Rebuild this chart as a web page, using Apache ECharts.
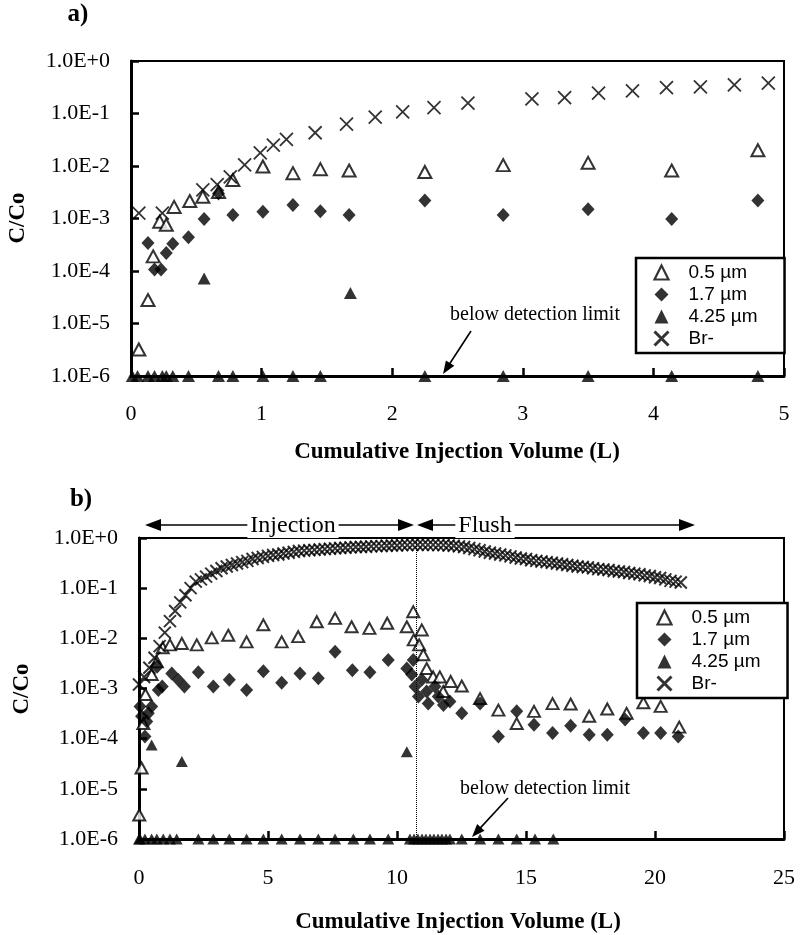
<!DOCTYPE html>
<html><head><meta charset="utf-8">
<script src="https://cdn.jsdelivr.net/npm/echarts@6/dist/echarts.min.js"></script>
<style>html,body{margin:0;padding:0;background:#fff}#c{width:801px;height:935px}</style>
</head><body><div id="c"></div>
<script>
// ---------- names & tick labels ----------
const seriesNames = ['0.5 µm', '1.7 µm', '4.25 µm', 'Br-'];
const yTickLabels = ['1.0E-6','1.0E-5','1.0E-4','1.0E-3','1.0E-2','1.0E-1','1.0E+0'];
const xTickLabelsA = ['0','1','2','3','4','5'];
const xTickLabelsB = ['0','5','10','15','20','25'];
const injectionEnd = 10.74;

// ---------- panel a ----------
const aX05 = [0.06,0.13,0.17,0.22,0.27,0.33,0.45,0.55,0.67,0.78,1.01,1.24,1.45,1.67,2.25,2.85,3.50,4.14,4.80];
const aC05 = [3.2e-6,2.8e-5,1.9e-4,8.7e-4,7.6e-4,1.66e-3,2.15e-3,2.6e-3,3.2e-3,5.4e-3,9.8e-3,7.3e-3,8.7e-3,8.2e-3,7.7e-3,0.0104,0.0115,8.2e-3,0.020];

const aX17 = [0.13,0.18,0.23,0.27,0.32,0.44,0.56,0.67,0.78,1.01,1.24,1.45,1.67,2.25,2.85,3.50,4.14,4.80];
const aC17 = [3.4e-4,1.07e-4,1.07e-4,2.2e-4,3.3e-4,4.4e-4,9.8e-4,3.0e-3,1.17e-3,1.35e-3,1.8e-3,1.38e-3,1.17e-3,2.2e-3,1.17e-3,1.5e-3,9.8e-4,2.2e-3];

const aX425 = [0.01,0.05,0.13,0.18,0.24,0.27,0.32,0.44,0.56,0.67,0.78,1.01,1.24,1.45,1.68,2.25,2.85,3.50,4.14,4.80];
const aC425 = [1e-6,1e-6,1e-6,1e-6,1e-6,1e-6,1e-6,1e-6,7.2e-5,1e-6,1e-6,1e-6,1e-6,1e-6,3.8e-5,1e-6,1e-6,1e-6,1e-6,1e-6];

const aXBr = [0.06,0.24,0.55,0.66,0.76,0.87,0.99,1.09,1.19,1.41,1.65,1.87,2.08,2.32,2.58,3.07,3.32,3.58,3.84,4.10,4.36,4.62,4.88];
const aCBr = [1.26e-3,1.26e-3,3.5e-3,4.4e-3,6.2e-3,0.0105,0.0178,0.025,0.032,0.043,0.063,0.085,0.107,0.13,0.158,0.19,0.20,0.245,0.27,0.31,0.32,0.35,0.38];

// ---------- panel b ----------
const bX05 = [0.01,0.10,0.17,0.25,0.49,0.69,0.92,1.20,1.66,2.24,2.82,3.46,4.17,4.82,5.53,6.17,6.89,7.60,8.24,8.93,9.62,10.38,10.63,10.65,10.86,10.96,11.02,11.15,11.40,11.66,11.79,12.08,12.51,13.22,13.93,14.64,15.31,16.03,16.73,17.45,18.15,18.90,19.55,20.22,20.94];
const bC05 = [3.0e-6,2.6e-5,2.0e-4,7.6e-4,1.9e-3,3.4e-3,6.5e-3,7.4e-3,7.9e-3,7.4e-3,0.0102,0.0115,8.5e-3,0.0186,8.5e-3,0.0108,0.0214,0.025,0.017,0.0158,0.020,0.017,0.034,9.3e-3,7.4e-3,0.0147,4.7e-3,2.5e-3,1.7e-3,1.7e-3,8.7e-4,1.38e-3,1.12e-3,6.3e-4,3.7e-4,2.0e-4,3.5e-4,5.0e-4,4.9e-4,2.8e-4,3.9e-4,3.2e-4,5.2e-4,4.4e-4,1.7e-4];

const bX17 = [0.04,0.10,0.23,0.30,0.36,0.49,0.70,0.75,0.90,1.27,1.52,1.76,2.30,2.88,3.50,4.17,4.82,5.53,6.24,6.95,7.60,8.27,8.95,9.66,10.38,10.57,10.63,10.70,10.83,10.96,11.15,11.21,11.47,11.60,11.80,12.05,12.51,13.22,13.93,14.64,15.31,16.03,16.73,17.45,18.15,18.84,19.55,20.22,20.90];
const bC17 = [4.4e-4,2.8e-4,1.1e-4,2.2e-4,3.2e-4,4.4e-4,2.7e-3,9.3e-4,1.1e-3,2.0e-3,1.5e-3,1.1e-3,2.1e-3,1.1e-3,1.5e-3,9.3e-4,2.2e-3,1.3e-3,2.0e-3,1.6e-3,5.4e-3,2.3e-3,2.1e-3,3.7e-3,2.5e-3,1.9e-3,3.7e-3,1.1e-3,6.9e-4,1.5e-3,8.7e-4,5.0e-4,1.1e-3,6.9e-4,4.7e-4,5.5e-4,3.2e-4,5.0e-4,1.1e-4,3.5e-4,1.9e-4,1.3e-4,1.8e-4,1.2e-4,1.2e-4,2.4e-4,1.3e-4,1.3e-4,1.1e-4];

const bX425 = [0.0,0.04,0.23,0.49,0.49,0.69,0.94,1.20,1.46,1.66,2.30,2.88,3.50,4.17,4.82,5.53,6.24,6.95,7.60,8.31,8.95,9.66,10.38,10.50,10.66,10.81,10.97,11.12,11.28,11.43,11.59,11.74,11.90,12.05,12.51,13.22,13.93,14.64,15.35,16.06];
const bC425 = [1e-6,1e-6,1e-6,1e-6,7.5e-5,1e-6,1e-6,1e-6,1e-6,3.5e-5,1e-6,1e-6,1e-6,1e-6,1e-6,1e-6,1e-6,1e-6,1e-6,1e-6,1e-6,1e-6,5.5e-5,1e-6,1e-6,1e-6,1e-6,1e-6,1e-6,1e-6,1e-6,1e-6,1e-6,1e-6,1e-6,1e-6,1e-6,1e-6,1e-6,1e-6];

const bXBr = [0.0,0.2,0.4,0.6,0.8,1.0,1.2,1.4,1.6,1.8,2.0,2.2,2.4,2.6,2.8,3.0,3.2,3.4,3.6,3.8,4.0,4.2,4.4,4.6,4.8,5.0,5.2,5.4,5.6,5.8,6.0,6.2,6.4,6.6,6.8,7.0,7.2,7.4,7.6,7.8,8.0,8.2,8.4,8.6,8.8,9.0,9.2,9.4,9.6,9.8,10.0,10.2,10.4,10.6,10.8,11.0,11.2,11.4,11.6,11.8,12.0,12.2,12.4,12.6,12.8,13.0,13.2,13.4,13.6,13.8,14.0,14.2,14.4,14.6,14.8,15.0,15.2,15.4,15.6,15.8,16.0,16.2,16.4,16.6,16.8,17.0,17.2,17.4,17.6,17.8,18.0,18.2,18.4,18.6,18.8,19.0,19.2,19.4,19.6,19.8,20.0,20.2,20.4,20.6,20.8,21.0];
const bCBr = [1.2e-3,1.7e-3,2.6e-3,4.1e-3,7.0e-3,0.013,0.022,0.035,0.052,0.072,0.10,0.135,0.15,0.17,0.195,0.22,0.25,0.27,0.29,0.31,0.33,0.35,0.38,0.40,0.42,0.44,0.46,0.47,0.49,0.51,0.53,0.55,0.56,0.57,0.58,0.59,0.60,0.61,0.62,0.63,0.64,0.65,0.66,0.66,0.67,0.68,0.69,0.69,0.70,0.71,0.71,0.72,0.72,0.73,0.73,0.73,0.73,0.73,0.72,0.72,0.71,0.70,0.68,0.66,0.63,0.60,0.57,0.54,0.51,0.49,0.47,0.45,0.43,0.41,0.39,0.38,0.36,0.35,0.34,0.33,0.32,0.31,0.30,0.29,0.28,0.27,0.265,0.26,0.25,0.24,0.235,0.23,0.22,0.215,0.21,0.20,0.195,0.19,0.18,0.175,0.165,0.16,0.15,0.14,0.135,0.13];

// ---------- build ----------
const pairs = (xs, ys) => xs.map((x, i) => [x, ys[i]]);
const SERIF = 'Liberation Serif, Times New Roman, serif';
const SANS = 'Liberation Sans, Arial, sans-serif';
const XPATH = 'path://M0 0L10 10M10 0L0 10';

function mk(idx, name, data, big) {
  const base = { type: 'scatter', name, data, xAxisIndex: idx, yAxisIndex: idx, clip: false, animation: false, silent: true };
  if (name === seriesNames[0]) return Object.assign(base, { symbol: 'triangle', symbolSize: big ? [13, 12] : [12, 11], itemStyle: { color: '#fff', borderColor: '#000', borderWidth: 2 }, z: 2 });
  if (name === seriesNames[1]) return Object.assign(base, { symbol: 'diamond', symbolSize: [13, 14], itemStyle: { color: '#000' }, z: 3 });
  if (name === seriesNames[2]) return Object.assign(base, { symbol: 'triangle', symbolSize: big ? [13, 12] : [12, 11], itemStyle: { color: '#000' }, z: 4 });
  return Object.assign(base, { symbol: XPATH, symbolSize: big ? 13 : 12, itemStyle: { color: 'rgba(0,0,0,0)', borderColor: '#000', borderWidth: big ? 1.8 : 2 }, z: 5 });
}

const series = [
  mk(0, seriesNames[0], pairs(aX05, aC05), true),
  mk(0, seriesNames[1], pairs(aX17, aC17), true),
  mk(0, seriesNames[2], pairs(aX425, aC425), true),
  mk(0, seriesNames[3], pairs(aXBr, aCBr), true),
  mk(1, seriesNames[0], pairs(bX05, bC05), false),
  mk(1, seriesNames[1], pairs(bX17, bC17), false),
  mk(1, seriesNames[2], pairs(bX425, bC425), false),
  mk(1, seriesNames[3], pairs(bXBr, bCBr), false)
];
series[7].markLine = {
  silent: true, animation: false, symbol: ['none', 'none'], label: { show: false },
  lineStyle: { type: 'dotted', color: '#000', width: 1 },
  data: [{ xAxis: injectionEnd }]
};

function yAxis(gi) {
  return {
    type: 'log', logBase: 10, gridIndex: gi, min: 1e-6, max: 1, splitNumber: 6,
    axisLine: { show: true, lineStyle: { color: '#000', width: 3 } },
    axisTick: { show: true, inside: true, length: 8, lineStyle: { color: '#000', width: 2.5 } },
    splitLine: { show: false }, minorTick: { show: false },
    axisLabel: { margin: 21, color: '#000', fontFamily: SERIF, fontSize: 22,
      formatter: v => yTickLabels[Math.round(Math.log10(v)) + 6] }
  };
}
function xAxis(gi, max, interval, labels, margin) {
  return {
    type: 'value', gridIndex: gi, min: 0, max, interval,
    axisLine: { show: true, onZero: false, lineStyle: { color: '#000', width: 3 } },
    axisTick: { show: true, inside: true, length: 8, lineStyle: { color: '#000', width: 2.5 } },
    splitLine: { show: false },
    axisLabel: { margin, color: '#000', fontFamily: SERIF, fontSize: 22,
      formatter: v => labels[Math.round(v / interval)] }
  };
}

function arrow(x1, y1, x2, y2, len, hw, lw) {
  const dx = x2 - x1, dy = y2 - y1, L = Math.hypot(dx, dy), ux = dx / L, uy = dy / L;
  const bx = x2 - ux * len, by = y2 - uy * len;
  return [
    { type: 'line', silent: true, shape: { x1, y1, x2: bx + ux * 2, y2: by + uy * 2 }, style: { stroke: '#000', lineWidth: lw } },
    { type: 'polygon', silent: true, shape: { points: [[x2, y2], [bx - uy * hw, by + ux * hw], [bx + uy * hw, by - ux * hw]] }, style: { fill: '#000' } }
  ];
}
function txt(x, y, text, font, extra) {
  return Object.assign({ type: 'text', x, y, silent: true, z: 50,
    style: Object.assign({ text, font, fill: '#000', align: 'center', verticalAlign: 'middle' }, (extra && extra.style) || {}) },
    extra && extra.rotation ? { rotation: extra.rotation } : {});
}

const graphic = [
  txt(78, 15, 'a)', 'bold 25px ' + SERIF),
  txt(81, 500, 'b)', 'bold 25px ' + SERIF),
  txt(18, 218, 'C/Co', 'bold 23px ' + SERIF, { rotation: Math.PI / 2 }),
  txt(22, 689, 'C/Co', 'bold 23px ' + SERIF, { rotation: Math.PI / 2 }),
  txt(457, 452, 'Cumulative Injection Volume (L)', 'bold 23px ' + SERIF),
  txt(458, 922, 'Cumulative Injection Volume (L)', 'bold 23px ' + SERIF),
  txt(535, 315, 'below detection limit', '20px ' + SERIF),
  txt(545, 789, 'below detection limit', '20px ' + SERIF),
  ...arrow(471, 331, 443, 374, 13, 5, 1.6),
  ...arrow(508, 798, 472, 837, 13, 5, 1.6),
  ...arrow(280, 525, 145, 525, 16, 6, 1.5),
  ...arrow(280, 525, 414, 525, 16, 6, 1.5),
  ...arrow(485, 525, 417, 525, 16, 6, 1.5),
  ...arrow(485, 525, 695, 525, 16, 6, 1.5),
  txt(293, 526, 'Injection', '24px ' + SERIF, { style: { backgroundColor: '#fff', padding: [0, 3] } }),
  txt(485, 526, 'Flush', '24px ' + SERIF, { style: { backgroundColor: '#fff', padding: [0, 3] } })
];

function legend(left, top, pad) {
  return {
    data: seriesNames.map(n => n === 'Br-' ? { name: n, itemStyle: { borderWidth: 3 } } : n),
    orient: 'vertical', left, top, padding: pad,
    itemWidth: 14, itemHeight: 14, itemGap: 3, selectedMode: false,
    backgroundColor: '#fff', borderColor: '#000', borderWidth: 2.5, borderRadius: 0,
    itemStyle: { borderWidth: 2.2 },
    textStyle: { fontFamily: SANS, fontSize: 19, lineHeight: 19, color: '#000', padding: [0, 0, 0, 15] }
  };
}

const option = {
  animation: false,
  backgroundColor: '#fff',
  grid: [
    { left: 131, top: 61, width: 653, height: 315, show: true, borderColor: '#000', borderWidth: 2, backgroundColor: 'transparent' },
    { left: 139, top: 538, width: 645, height: 301, show: true, borderColor: '#000', borderWidth: 2, backgroundColor: 'transparent' }
  ],
  xAxis: [xAxis(0, 5, 1, xTickLabelsA, 27), xAxis(1, 25, 5, xTickLabelsB, 28)],
  yAxis: [yAxis(0), yAxis(1)],
  legend: [legend(636, 258, [5, 27, 5, 17]), legend(637, 603, [5, 27, 5, 19])],
  graphic,
  series
};
const chart = echarts.init(document.getElementById('c'), null, { renderer: 'canvas' });
chart.setOption(option);
</script>
</body></html>
